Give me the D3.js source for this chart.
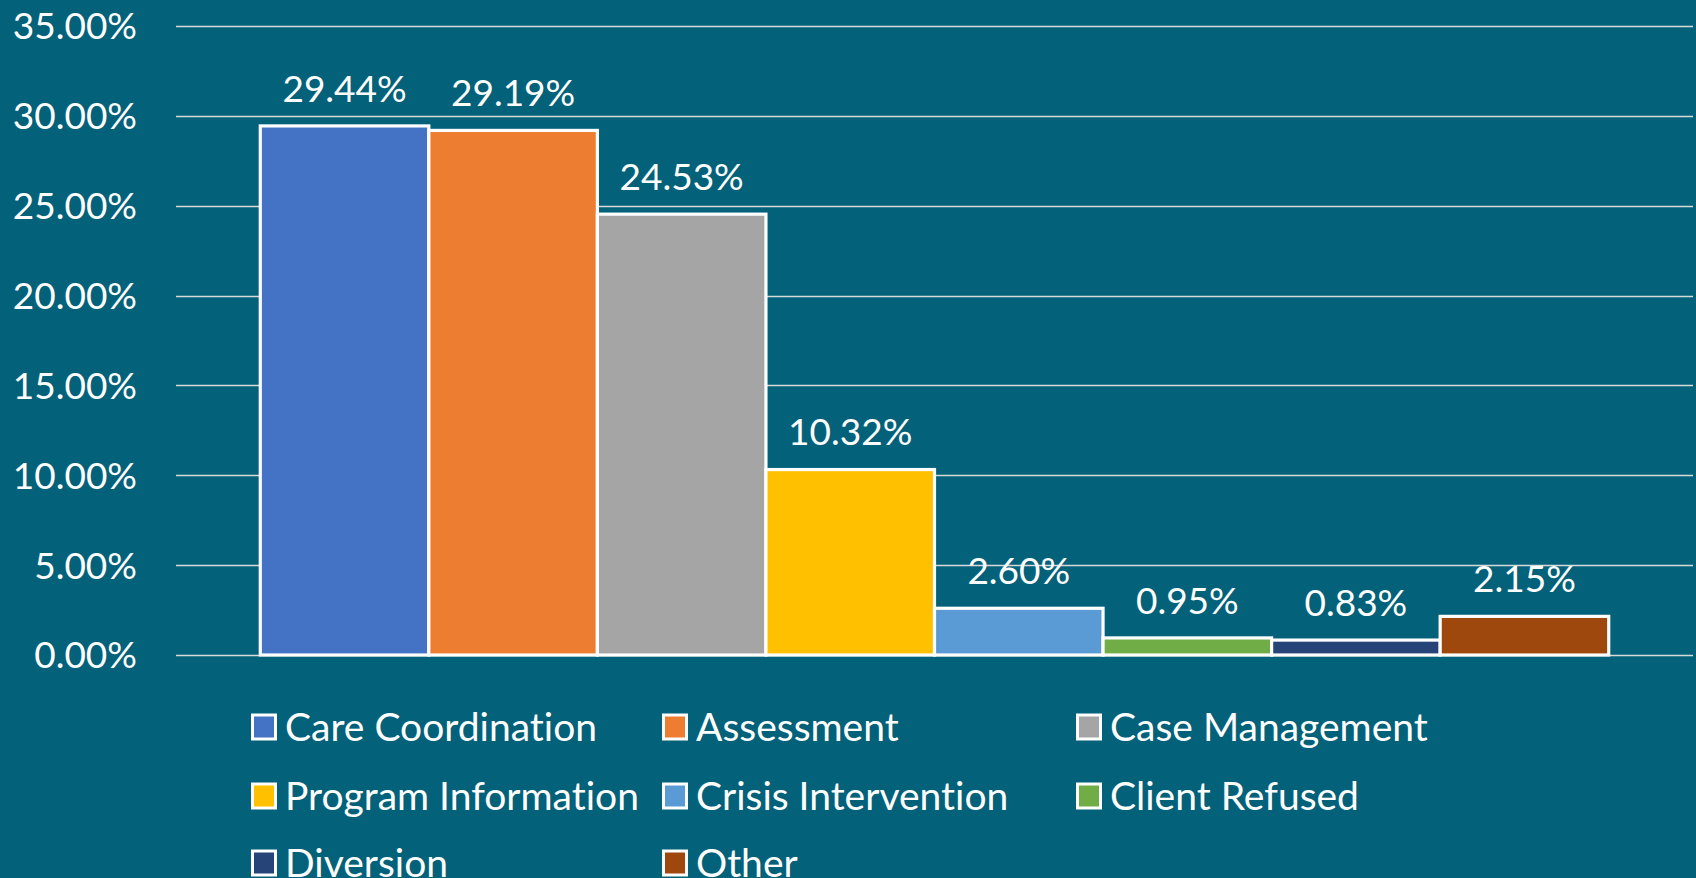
<!DOCTYPE html>
<html>
<head>
<meta charset="utf-8">
<script src="https://cdn.jsdelivr.net/npm/d3@7"></script>
<style>
  html, body { margin: 0; padding: 0; background: #03617a; overflow: hidden; }
  svg text { font-family: Lato, "Open Sans", sans-serif; fill: #ffffff; font-variant-ligatures: none; }
</style>
</head>
<body>
<svg id="chart" width="1696" height="878"></svg>
<script>
// data
var categories = ["Care Coordination", "Assessment", "Case Management", "Program Information",
                  "Crisis Intervention", "Client Refused", "Diversion", "Other"];
var values = [29.44, 29.19, 24.53, 10.32, 2.60, 0.95, 0.83, 2.15];
var colors = ["#4472C4", "#ED7D31", "#A5A5A5", "#FFC000", "#5B9BD5", "#70AD47", "#264478", "#9E480E"];
var yTicks = [0, 5, 10, 15, 20, 25, 30, 35];

var svg = d3.select("#chart");
var fontSize = 37;
var legendFontSize = 39;

var plot = {left: 176, right: 1693, top: 26, bottom: 655};

var x = d3.scaleBand()
    .domain(categories)
    .range([plot.left, plot.right])
    .paddingInner(0)
    .paddingOuter(0.5);

var y = d3.scaleLinear()
    .domain([0, 35])
    .range([plot.bottom, plot.top]);

// gridlines
svg.append("g")
  .selectAll("line")
  .data(yTicks)
  .enter().append("line")
    .attr("x1", plot.left)
    .attr("x2", plot.right)
    .attr("y1", function(d) { return Math.round(y(d)) + 0.5; })
    .attr("y2", function(d) { return Math.round(y(d)) + 0.5; })
    .attr("stroke", "#d9d9d9")
    .attr("stroke-width", 1.5);

// y axis tick labels
var yAxis = d3.axisLeft(y)
    .tickValues(yTicks)
    .tickSize(0)
    .tickPadding(0)
    .tickFormat(function(d) { return d.toFixed(2) + "%"; });

var gy = svg.append("g")
    .attr("transform", "translate(137,0)")
    .call(yAxis);
gy.select(".domain").remove();
gy.selectAll("text")
    .attr("font-size", fontSize)
    .attr("font-family", null)
    .attr("fill", null)
    .attr("dy", "0.35em");

// bars
svg.append("g")
  .selectAll("rect")
  .data(values)
  .enter().append("rect")
    .attr("x", function(d, i) { return x(categories[i]); })
    .attr("y", function(d) { return y(d); })
    .attr("width", x.bandwidth())
    .attr("height", function(d) { return y(0) - y(d); })
    .attr("fill", function(d, i) { return colors[i]; })
    .attr("stroke", "#ffffff")
    .attr("stroke-width", 3.2);

// data labels
svg.append("g")
  .selectAll("text")
  .data(values)
  .enter().append("text")
    .attr("x", function(d, i) { return x(categories[i]) + x.bandwidth() / 2; })
    .attr("y", function(d) { return y(d) - 37; })
    .attr("dy", "0.35em")
    .attr("text-anchor", "middle")
    .attr("font-size", fontSize)
    .text(function(d) { return d.toFixed(2) + "%"; });

// legend, 3 columns
var legend = svg.append("g");
var colX = [251, 662, 1076];
var rowY = [727, 796, 863];
var item = legend.selectAll("g")
    .data(categories)
  .enter().append("g")
    .attr("transform", function(d, i) {
      return "translate(" + colX[i % 3] + "," + rowY[Math.floor(i / 3)] + ")";
    });
item.append("rect")
    .attr("x", 1.5)
    .attr("y", -12)
    .attr("width", 23)
    .attr("height", 24)
    .attr("fill", function(d, i) { return colors[i]; })
    .attr("stroke", "#ffffff")
    .attr("stroke-width", 3);
item.append("text")
    .attr("x", 34)
    .attr("dy", "0.35em")
    .attr("font-size", legendFontSize)
    .text(function(d) { return d; });
</script>
</body>
</html>
